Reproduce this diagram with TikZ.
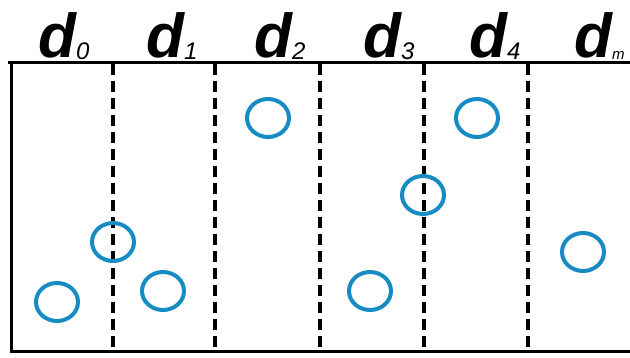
\documentclass[tikz,border=0pt]{standalone}
\usepackage{fontspec}
\setmainfont{Liberation Sans}
\usetikzlibrary{positioning, shapes.geometric}
\definecolor{ringblue}{RGB}{22,140,195}
\newcommand{\dlab}[1]{{\fontsize{62}{66}\selectfont\bfseries\itshape d}\raisebox{-2pt}{\fontsize{24}{26}\selectfont\itshape #1}}

\begin{document}
\begin{tikzpicture}[x=1pt, y=-1pt,
  ring/.style={ellipse, draw=ringblue, line width=4pt, minimum width=42pt, minimum height=38pt, inner sep=0pt},
  border/.style={line width=3pt, black},
  divider/.style={line width=4.5pt, black, dash pattern=on 11pt off 6pt},
  slotlabel/.style={anchor=base west, inner sep=0pt}]

\useasboundingbox (0,0) rectangle (630,358);

% frame
\coordinate (tl) at (8,63);
\coordinate (tr) at (632,63);
\coordinate (lt) at (11,63);
\coordinate (lb) at (11,352);
\coordinate (br) at (632,352);
\draw[border] (tl) -- (tr);
\draw[border] (lt) -- (lb) -- (br);

% dividers
\coordinate (v1t) at (113,64); \coordinate (v1b) at (113,351);
\coordinate (v2t) at (215,64); \coordinate (v2b) at (215,351);
\coordinate (v3t) at (320,64); \coordinate (v3b) at (320,351);
\coordinate (v4t) at (424,64); \coordinate (v4b) at (424,351);
\coordinate (v5t) at (528,64); \coordinate (v5b) at (528,351);
\draw[divider] (v1t) -- (v1b);
\draw[divider] (v2t) -- (v2b);
\draw[divider] (v3t) -- (v3b);
\draw[divider] (v4t) -- (v4b);
\draw[divider] (v5t) -- (v5b);

% labels
\node[slotlabel] (d0) at (38,58) {\dlab{0}};
\node[slotlabel] (d1) at (146,58) {\dlab{1}};
\node[slotlabel] (d2) at (254,58) {\dlab{2}};
\node[slotlabel] (d3) at (363,58) {\dlab{3}};
\node[slotlabel] (d4) at (469,58) {\dlab{4}};
\node[slotlabel] (d5) at (574,58) {\dlab{\fontsize{15}{17}\selectfont m}};

% points
\node[ring] (p1) at (57,302) {};
\node[ring] (p2) at (113,242) {};
\node[ring] (p3) at (163,291) {};
\node[ring] (p4) at (268,118) {};
\node[ring] (p5) at (370,291) {};
\node[ring] (p6) at (423,195) {};
\node[ring] (p7) at (477,118) {};
\node[ring] (p8) at (583,252) {};

\end{tikzpicture}
\end{document}
